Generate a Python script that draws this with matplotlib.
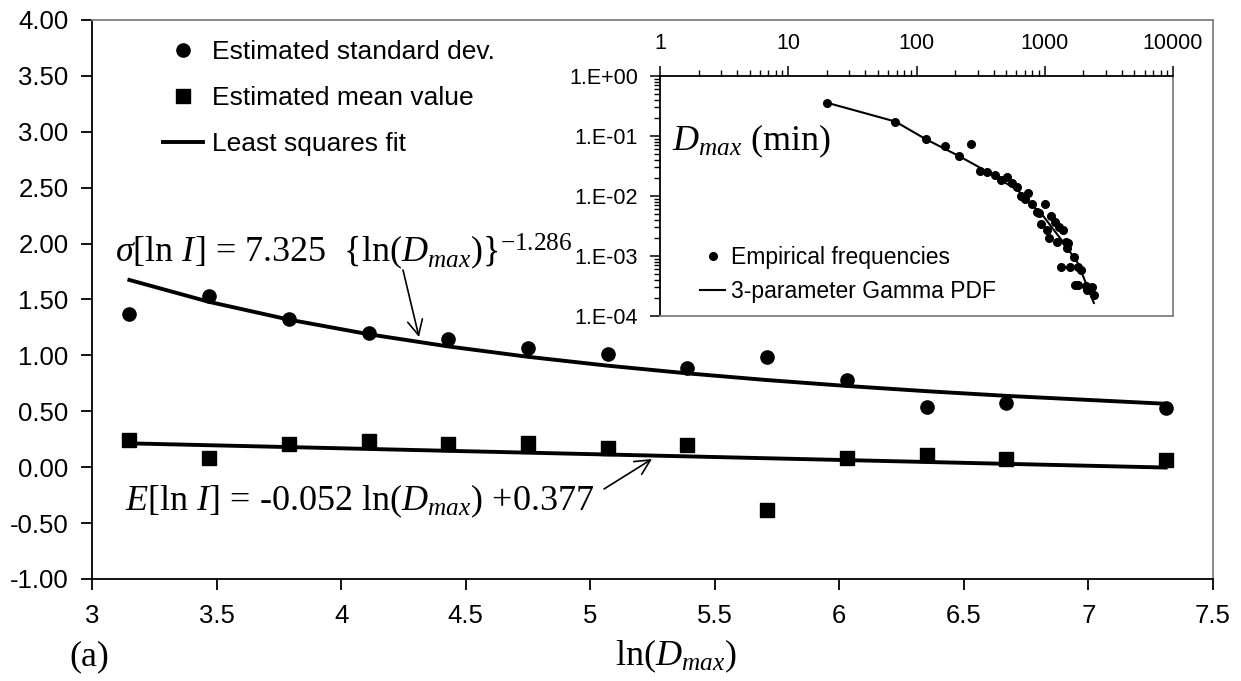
import numpy as np
import matplotlib
matplotlib.use('Agg')
import matplotlib.pyplot as plt
from matplotlib.ticker import FixedLocator, FuncFormatter, LogLocator, NullFormatter

plt.rcParams['font.family'] = ['Liberation Sans', 'DejaVu Sans']
plt.rcParams['axes.unicode_minus'] = False
plt.rcParams['mathtext.fontset'] = 'custom'
plt.rcParams['mathtext.rm'] = 'Liberation Serif'
plt.rcParams['mathtext.it'] = 'Liberation Serif:italic'
plt.rcParams['mathtext.bf'] = 'Liberation Serif:bold'

# main panel: ln(Dmax) and estimated parameters of ln I
ln_dmax = [3.15, 3.47, 3.79, 4.11, 4.43, 4.75, 5.07, 5.39, 5.71, 6.03, 6.35, 6.67, 7.31]
sigma_est = [1.37, 1.53, 1.325, 1.20, 1.15, 1.07, 1.01, 0.89, 0.99, 0.78, 0.54, 0.57, 0.53]
mean_est = [0.24, 0.085, 0.205, 0.235, 0.205, 0.22, 0.175, 0.20, -0.385, 0.08, 0.11, 0.07, 0.06]

# least squares fits printed on the chart
sig_a, sig_b = 7.325, -1.286
mean_slope, mean_icpt = -0.052, 0.377

x_ticks = [3, 3.5, 4, 4.5, 5, 5.5, 6, 6.5, 7, 7.5]
y_ticks = [-1.0, -0.5, 0.0, 0.5, 1.0, 1.5, 2.0, 2.5, 3.0, 3.5, 4.0]

# inset: empirical frequencies of Dmax (min)
emp_d = [20, 68.5, 117.6, 166, 214, 264, 312, 357, 409, 453, 505, 559, 612, 649,
         698, 746, 801, 877, 896, 1000, 943, 1037, 1081, 1128, 1197, 1294, 1390,
         1241, 1459, 1528, 1486, 1676, 1334, 1577, 1820, 1911, 1726, 1820, 2090,
         2329, 2428, 2154]
emp_f = [0.359, 0.171, 0.088, 0.069, 0.047, 0.074, 0.0264, 0.0255, 0.0224, 0.0185,
         0.021, 0.0167, 0.014, 0.010, 0.0088, 0.0111, 0.00728, 0.00548, 0.00515,
         0.00736, 0.00337, 0.00271, 0.00197, 0.00464, 0.00373, 0.00308, 0.00271,
         0.00169, 0.00169, 0.00166, 0.00134, 0.00097, 0.00066, 0.00066, 0.00066,
         0.000585, 0.000329, 0.000329, 0.000316, 0.0003, 0.000224, 0.00027]
gamma_d = [20, 68.5, 117.6, 214, 316, 612, 982, 1407, 1811, 2415]
gamma_f = [0.359, 0.174, 0.089, 0.0464, 0.0293, 0.0126, 0.00452, 0.00165, 0.000764, 0.000165]

W, H = 1241, 681
fig = plt.figure(figsize=(W / 100, H / 100), dpi=100)
fig.patch.set_facecolor('white')

ax = fig.add_axes([92 / W, 1 - 579 / H, 1121 / W, 559 / H])
xs = np.array(ln_dmax)
h3, = ax.plot(xs, sig_a * xs ** sig_b, color='black', lw=2.8, zorder=2, label='Least squares fit')
ax.plot([xs[0], xs[-1]], [mean_slope * xs[0] + mean_icpt, mean_slope * xs[-1] + mean_icpt],
        color='black', lw=2.8, zorder=2)
h1, = ax.plot(ln_dmax, sigma_est, 'o', color='black', ms=9.5, zorder=3,
              label='Estimated standard dev.')
h2, = ax.plot(ln_dmax, mean_est, 's', color='black', ms=9.5, zorder=3,
              label='Estimated mean value')

ax.set_xlim(3, 7.5)
ax.set_ylim(-1, 4)
ax.xaxis.set_major_locator(FixedLocator(x_ticks))
ax.yaxis.set_major_locator(FixedLocator(y_ticks))
ax.xaxis.set_major_formatter(FuncFormatter(lambda v, p: f'{v:g}'))
ax.yaxis.set_major_formatter(FuncFormatter(lambda v, p: f'{v:.2f}'))
ax.tick_params(axis='both', direction='out', length=8, width=1.3, labelsize=18.5, color='black')
ax.tick_params(axis='y', pad=9)
ax.tick_params(axis='x', pad=10)
for s in ['left', 'bottom']:
    ax.spines[s].set_color('black')
    ax.spines[s].set_linewidth(1.3)
for s in ['top', 'right']:
    ax.spines[s].set_color('#808080')
    ax.spines[s].set_linewidth(1.3)

ax.legend(handles=[h1, h2, h3], loc='upper left', bbox_to_anchor=(163 / W, 1 - 40 / H),
          bbox_transform=fig.transFigure, frameon=False, fontsize=19,
          handlelength=1.5, handletextpad=0.35, labelspacing=0.83,
          borderpad=0, borderaxespad=0)

serif = 'Liberation Serif'
fig.text(115 / W, 1 - 262 / H, r'$\sigma$[ln $I$] = 7.325  {ln($D_{max}$)}${}^{-1.286}$',
         fontsize=26, family=serif, va='baseline', ha='left')
fig.text(125 / W, 1 - 510 / H, r'$E$[ln $I$] = -0.052 ln($D_{max}$) +0.377',
         fontsize=26, family=serif, va='baseline', ha='left')
fig.text(676 / W, 1 - 665 / H, r'ln($D_{max}$)', fontsize=26, family=serif,
         va='baseline', ha='center')
fig.text(69 / W, 1 - 665 / H, '(a)', fontsize=26, family=serif, va='baseline', ha='left')

arrow = dict(arrowstyle='->,head_length=0.4,head_width=0.2', lw=1.2, color='black',
             mutation_scale=27, shrinkA=0, shrinkB=0)
ax.annotate('', xy=(419, H - 337), xytext=(403, H - 270),
            xycoords='figure pixels', textcoords='figure pixels', arrowprops=arrow)
ax.annotate('', xy=(652, H - 459), xytext=(604, H - 489),
            xycoords='figure pixels', textcoords='figure pixels', arrowprops=arrow)

# inset
ax_in = fig.add_axes([660 / W, 1 - 316 / H, 513 / W, 240 / H])
ax_in.set_facecolor('white')
ax_in.set_xscale('log')
ax_in.set_yscale('log')
ax_in.plot(gamma_d, gamma_f, color='black', lw=1.5, label='3-parameter Gamma PDF')
ax_in.plot(emp_d, emp_f, 'o', color='black', ms=5.5, label='Empirical frequencies')
ax_in.set_xlim(1, 10000)
ax_in.set_ylim(1e-4, 1)
ax_in.xaxis.tick_top()
ax_in.xaxis.set_major_locator(FixedLocator([1, 10, 100, 1000, 10000]))
ax_in.xaxis.set_major_formatter(FuncFormatter(lambda v, p: f'{v:.0f}'))
ax_in.xaxis.set_minor_locator(LogLocator(base=10, subs=np.arange(2, 10)))
ax_in.xaxis.set_minor_formatter(NullFormatter())
ax_in.yaxis.set_major_locator(FixedLocator([1e-4, 1e-3, 1e-2, 1e-1, 1]))
ax_in.yaxis.set_major_formatter(
    FuncFormatter(lambda v, p: '1.E{:+03d}'.format(int(round(np.log10(v))))))
ax_in.yaxis.set_minor_locator(LogLocator(base=10, subs=np.arange(2, 10)))
ax_in.yaxis.set_minor_formatter(NullFormatter())
ax_in.tick_params(which='major', direction='out', length=7, width=1.1, labelsize=15.5)
ax_in.tick_params(which='minor', direction='out', length=4, width=1.0)
ax_in.tick_params(axis='y', which='both', pad=9)
ax_in.tick_params(axis='x', which='major', pad=9)
for s in ['left', 'top']:
    ax_in.spines[s].set_color('black')
    ax_in.spines[s].set_linewidth(1.3)
for s in ['right', 'bottom']:
    ax_in.spines[s].set_color('#808080')
    ax_in.spines[s].set_linewidth(1.3)

hl = ax_in.get_legend_handles_labels()
ax_in.legend([hl[0][1], hl[0][0]], [hl[1][1], hl[1][0]], loc='upper left',
             bbox_to_anchor=(700 / W, 1 - 246 / H), bbox_transform=fig.transFigure,
             frameon=False, fontsize=16.5, handlelength=1.1, handletextpad=0.25,
             labelspacing=0.49, borderpad=0, borderaxespad=0)

fig.text(672 / W, 1 - 150 / H, r'$D_{max}$ (min)', fontsize=26, family=serif,
         va='baseline', ha='left')
ax.annotate('', xy=(741, H - 77), xytext=(695, H - 121),
            xycoords='figure pixels', textcoords='figure pixels', arrowprops=arrow)

fig.savefig('out.png', dpi=100, facecolor='white')
